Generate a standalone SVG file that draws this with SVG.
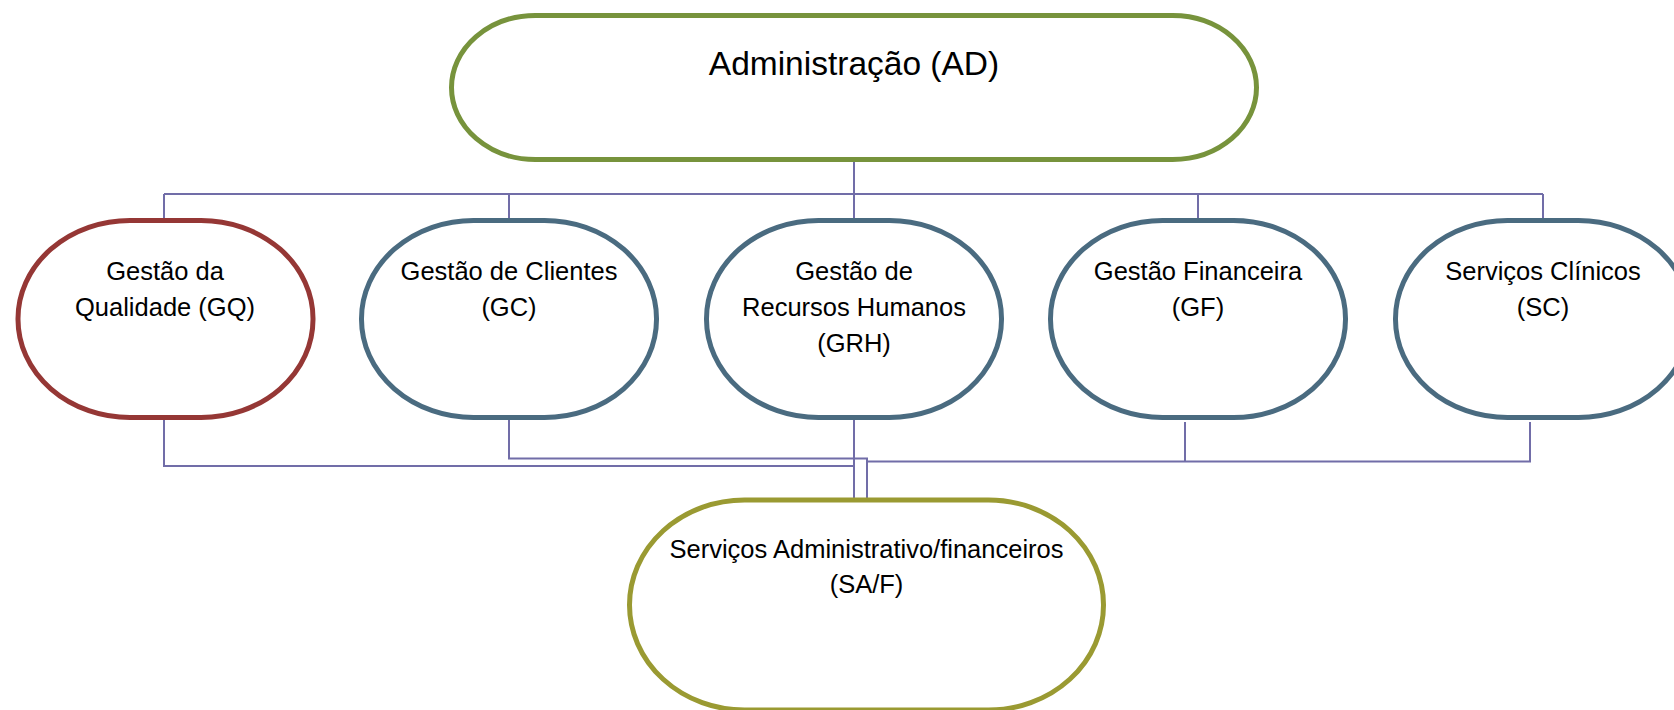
<svg xmlns="http://www.w3.org/2000/svg" width="1674" height="710" viewBox="0 0 1674 710">
<style>
.node{fill:#ffffff;stroke-width:5}
.ad{stroke:#77933c}
.gq{stroke:#953735}
.bl{stroke:#4a6b80}
.sa{stroke:#9a9a32}
.lbl{font-family:"Liberation Sans",Arial,sans-serif;font-size:25.5px;fill:#000;text-anchor:middle}
.big{font-size:33.5px}
.con{fill:none;stroke:#716da8;stroke-width:2}
</style>
<rect width="1674" height="710" fill="#ffffff"/>
<g id="connectors">
<path class="con" d="M854 162 V194 M164 194 H1543 M164 194 V218 M509 194 V218 M854 194 V218 M1198 194 V218 M1543 194 V218"/>
<path class="con" d="M164 420 V466 H854"/>
<path class="con" d="M509 419 V458.5 H867 V498"/>
<path class="con" d="M854 419 V500"/>
<path class="con" d="M1185 422 V461.5 M1530 422 V461.5 H867"/>
</g>
<g id="AD">
<rect class="node ad" x="451.5" y="15.5" width="805" height="144" rx="84" ry="72"/>
<text class="lbl big" x="854" y="75">Administração (AD)</text>
</g>
<g id="GQ">
<rect class="node gq" x="18" y="220.5" width="295" height="197" rx="112" ry="98"/>
<text class="lbl" x="165" y="280">Gestão da</text>
<text class="lbl" x="165" y="316">Qualidade (GQ)</text>
</g>
<g id="GC">
<rect class="node bl" x="361.5" y="220.5" width="295" height="197" rx="112" ry="98"/>
<text class="lbl" x="509" y="280">Gestão de Clientes</text>
<text class="lbl" x="509" y="316">(GC)</text>
</g>
<g id="GRH">
<rect class="node bl" x="706.5" y="220.5" width="295" height="197" rx="112" ry="98"/>
<text class="lbl" x="854" y="280">Gestão de</text>
<text class="lbl" x="854" y="316">Recursos Humanos</text>
<text class="lbl" x="854" y="352">(GRH)</text>
</g>
<g id="GF">
<rect class="node bl" x="1050.5" y="220.5" width="295" height="197" rx="112" ry="98"/>
<text class="lbl" x="1198" y="280">Gestão Financeira</text>
<text class="lbl" x="1198" y="316">(GF)</text>
</g>
<g id="SC">
<rect class="node bl" x="1395.5" y="220.5" width="295" height="197" rx="112" ry="98"/>
<text class="lbl" x="1543" y="280">Serviços Clínicos</text>
<text class="lbl" x="1543" y="316">(SC)</text>
</g>
<g id="SAF">
<rect class="node sa" x="629.5" y="500" width="474" height="210" rx="115" ry="105"/>
<text class="lbl" x="866.5" y="558">Serviços Administrativo/financeiros</text>
<text class="lbl" x="866.5" y="593">(SA/F)</text>
</g>
</svg>
